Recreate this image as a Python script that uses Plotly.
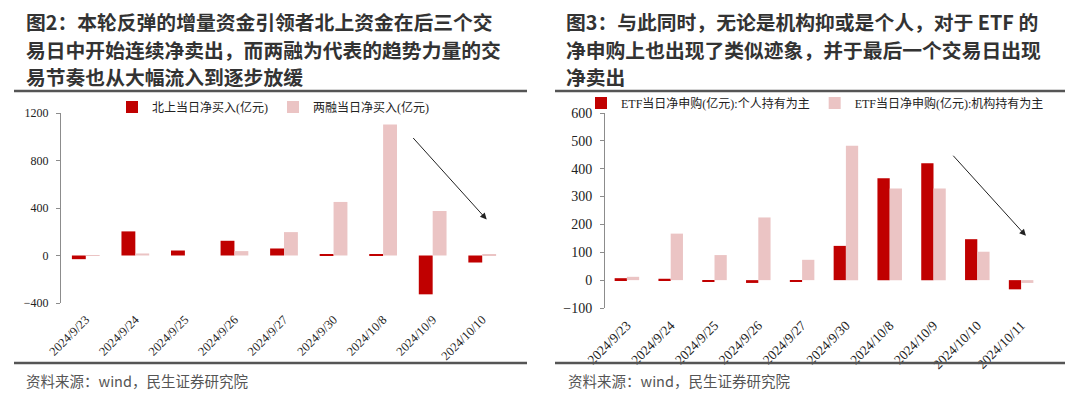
import plotly.graph_objects as go

# ---------------- data ----------------
left_dates = ["2024/9/23", "2024/9/24", "2024/9/25", "2024/9/26", "2024/9/27",
              "2024/9/30", "2024/10/8", "2024/10/9", "2024/10/10"]
north_net = [-31, 203, 42, 124, 59, 11, 8, -327, -59]
margin_net = [2, 17, 0, 37, 197, 451, 1104, 375, 11]

right_dates = ["2024/9/23", "2024/9/24", "2024/9/25", "2024/9/26", "2024/9/27",
               "2024/9/30", "2024/10/8", "2024/10/9", "2024/10/10", "2024/10/11"]
etf_retail = [7, 5, -5, -10, -5, 123, 366, 420, 147, -33]
etf_inst = [12, 167, 90, 225, 73, 482, 329, 329, 102, -10]

left_title = ["图2：本轮反弹的增量资金引领者北上资金在后三个交",
              "易日中开始连续净卖出，而两融为代表的趋势力量的交",
              "易节奏也从大幅流入到逐步放缓"]
right_title = ["图3：与此同时，无论是机构抑或是个人，对于 ETF 的",
               "净申购上也出现了类似迹象，并于最后一个交易日出现",
               "净卖出"]
source = "资料来源：wind，民生证券研究院"

RED = "#C00000"
PINK = "#EBC4C4"
W, H = 1080, 393
OFF = 8  # page body margin
SERIF = "Liberation Serif, Times New Roman, Noto Sans CJK SC"
CJK = "Noto Sans CJK SC, Noto Sans, sans-serif"

fig = go.Figure()
fig.add_trace(go.Bar(x=left_dates, y=north_net, name="北上当日净买入(亿元)",
                     marker_color=RED, xaxis="x", yaxis="y", legend="legend"))
fig.add_trace(go.Bar(x=left_dates, y=margin_net, name="两融当日净买入(亿元)",
                     marker_color=PINK, xaxis="x", yaxis="y", legend="legend"))
fig.add_trace(go.Bar(x=right_dates, y=etf_retail, name="ETF当日净申购(亿元):个人持有为主",
                     marker_color=RED, xaxis="x2", yaxis="y2", legend="legend2"))
fig.add_trace(go.Bar(x=right_dates, y=etf_inst, name="ETF当日净申购(亿元):机构持有为主",
                     marker_color=PINK, xaxis="x2", yaxis="y2", legend="legend2"))

def px2x(p):
    return (p - OFF) / W

def py2y(p):
    return 1 - (p - OFF) / H

Lx = [px2x(61), px2x(507)]
Ly = [py2y(303), py2y(113)]
Rx = [px2x(605), px2x(1043)]
Ry = [py2y(308), py2y(113)]
Lr = [-400, 1200]
Rr = [-100, 600]

def zero_pos(dom, rng):
    return dom[0] + (0 - rng[0]) / (rng[1] - rng[0]) * (dom[1] - dom[0])

nL, nR = len(left_dates), len(right_dates)
AXC = "#8c8c8c"

def yax(size):
    return dict(showgrid=False, zeroline=False, showline=True, linecolor=AXC,
                linewidth=1, ticks="outside", ticklen=4, tickcolor=AXC,
                tickfont=dict(family=SERIF, size=size, color="#222"),
                ticklabelstandoff=5, automargin=False)

def xax(size):
    return dict(showgrid=False, zeroline=False, showline=False, ticks="",
                tickangle=-45, tickfont=dict(family=SERIF, size=size, color="#222"),
                type="category", automargin=False, ticklabelstandoff=6)

def zax(over, dom, rng, n):
    return dict(overlaying=over, anchor="free", position=zero_pos(dom, rng), type="linear",
                range=[-0.5, n - 0.5], showgrid=False, zeroline=False, showline=True,
                linecolor="#a6a6a6", linewidth=1, ticks="outside", ticklen=5, tickcolor="#a6a6a6",
                tickvals=[i + 0.5 for i in range(n)], showticklabels=False, automargin=False)

fig.update_layout(
    template="none",
    width=W, height=H, margin=dict(l=0, r=0, t=0, b=0, pad=0, autoexpand=False),
    paper_bgcolor="white", plot_bgcolor="white",
    barmode="group", bargap=0.44, bargroupgap=0.0,
    xaxis=dict(domain=Lx, anchor="y", range=[-0.5, nL - 0.5], **xax(12.5)),
    yaxis=dict(domain=Ly, anchor="x", range=Lr, tickvals=[-400, 0, 400, 800, 1200], **yax(12)),
    xaxis2=dict(domain=Rx, anchor="y2", range=[-0.5, nR - 0.5], **xax(13.5)),
    yaxis2=dict(domain=Ry, anchor="x2", range=Rr, dtick=100, **yax(14)),
    xaxis3=zax("x", Ly, Lr, nL),
    xaxis4=zax("x2", Ry, Rr, nR),
    legend=dict(orientation="h", x=px2x(273), y=py2y(107), xanchor="center", yanchor="middle",
                font=dict(family=SERIF, size=12, color="#222"), bgcolor="rgba(0,0,0,0)",
                itemwidth=30, tracegroupgap=0),
    legend2=dict(orientation="h", x=px2x(815), y=py2y(103), xanchor="center", yanchor="middle",
                 font=dict(family=SERIF, size=12, color="#222"), bgcolor="rgba(0,0,0,0)",
                 itemwidth=30, tracegroupgap=0),
    showlegend=True,
)

# titles
ann = []
line_y = [22, 49.5, 77]
for i, t in enumerate(left_title):
    ann.append(dict(text="<b>" + t + "</b>", x=px2x(25), y=py2y(line_y[i]), xref="paper", yref="paper",
                    xanchor="left", yanchor="middle", showarrow=False, borderpad=0,
                    font=dict(family=CJK, size=19.8, color="#333333")))
for i, t in enumerate(right_title):
    ann.append(dict(text="<b>" + t + "</b>", x=px2x(565), y=py2y(line_y[i]), xref="paper", yref="paper",
                    xanchor="left", yanchor="middle", showarrow=False, borderpad=0,
                    font=dict(family=CJK, size=19.8, color="#333333")))
for xp in [25, 567]:
    ann.append(dict(text=source, x=px2x(xp), y=py2y(380), xref="paper", yref="paper",
                    xanchor="left", yanchor="middle", showarrow=False, borderpad=0,
                    font=dict(family=CJK, size=14.5, color="#555555")))

# trend arrows
ann.append(dict(x=8.09, y=303, ax=6.58, ay=1002, xref="x", yref="y", axref="x", ayref="y",
                text="", showarrow=True, arrowhead=2, arrowsize=1.3, arrowwidth=1, arrowcolor="#222"))
ann.append(dict(x=9.11, y=159, ax=7.42, ay=452, xref="x2", yref="y2", axref="x2", ayref="y2",
                text="", showarrow=True, arrowhead=2, arrowsize=1.3, arrowwidth=1, arrowcolor="#222"))
fig.update_layout(annotations=ann)

# horizontal rules
shapes = []
for (x0, x1) in [(14, 527), (555, 1065)]:
    for yy in [91, 363]:
        shapes.append(dict(type="line", xref="paper", yref="paper", x0=px2x(x0), x1=px2x(x1),
                           y0=py2y(yy), y1=py2y(yy), line=dict(color="#555555", width=2.5)))
fig.update_layout(shapes=shapes)

fig.write_html("out.html")
